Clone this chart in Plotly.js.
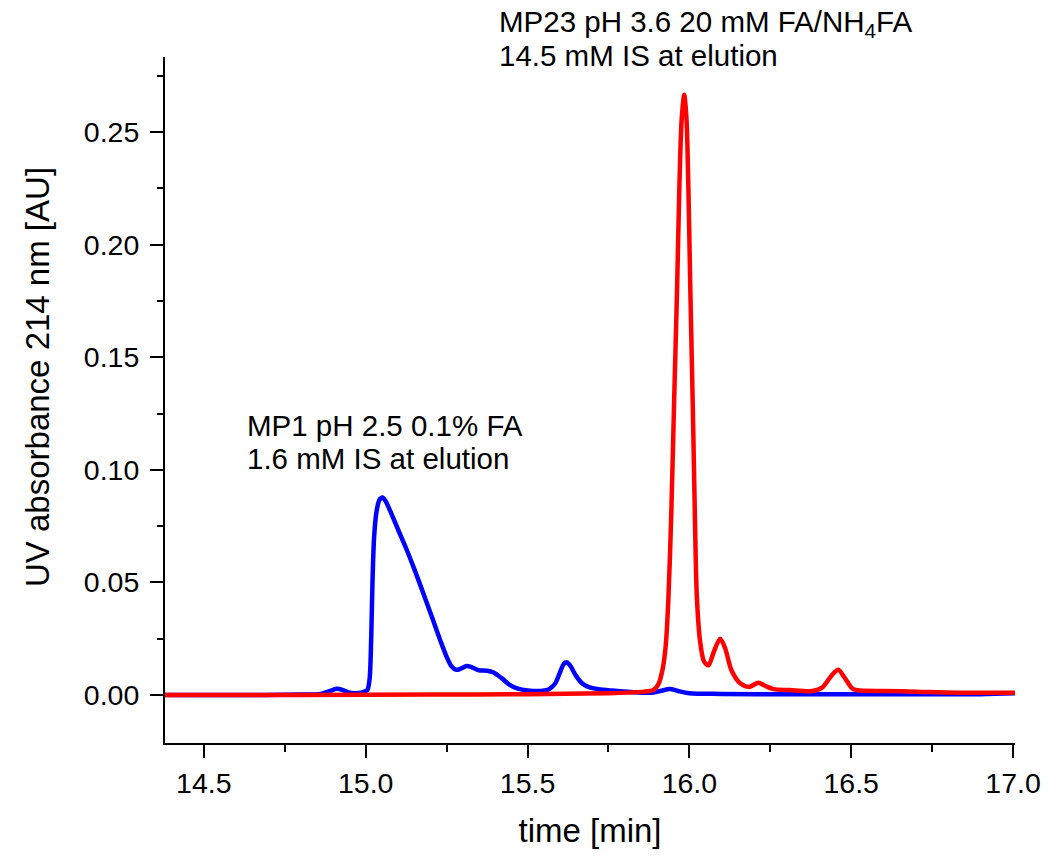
<!DOCTYPE html>
<html>
<head>
<meta charset="utf-8">
<script src="https://cdn.plot.ly/plotly-3.0.1.min.js"></script>
<style>html,body{margin:0;padding:0;background:#fff;}#chart{width:1051px;height:859px;}</style>
</head>
<body>
<div id="chart"></div>
<script>
// MP1 pH 2.5 (blue) trace
const blueTime = [14.38,14.60,14.80,14.86,14.89,14.91,14.93,14.95,14.97,14.99,15.005,15.012,15.017,15.021,15.026,15.033,15.042,15.052,15.062,15.075,15.10,15.127,15.15,15.178,15.205,15.23,15.25,15.265,15.28,15.295,15.312,15.33,15.35,15.375,15.395,15.42,15.445,15.47,15.50,15.54,15.565,15.585,15.60,15.612,15.622,15.632,15.65,15.67,15.69,15.72,15.76,15.82,15.88,15.91,15.94,15.965,16.00,16.10,16.30,16.50,16.70,16.90,17.006];
const blueAbs  = [0.0000,0.0000,0.0002,0.0005,0.0018,0.0028,0.0022,0.0010,0.0008,0.0012,0.0022,0.0070,0.0250,0.0500,0.0700,0.0810,0.0865,0.0877,0.0860,0.0820,0.0735,0.0644,0.0560,0.0452,0.0345,0.0244,0.0170,0.0128,0.0112,0.0118,0.0129,0.0122,0.0110,0.0108,0.0100,0.0075,0.0045,0.0028,0.0020,0.0018,0.0025,0.0050,0.0100,0.0138,0.0145,0.0130,0.0085,0.0050,0.0035,0.0026,0.0020,0.0013,0.0010,0.0018,0.0027,0.0018,0.0008,0.0005,0.0003,0.0003,0.0003,0.0004,0.0008];

// MP23 pH 3.6 (red) trace
const redTime = [14.38,14.80,15.20,15.50,15.75,15.85,15.889,15.905,15.918,15.927,15.935,15.944,15.953,15.962,15.969,15.976,15.984,15.991,15.997,16.003,16.011,16.017,16.023,16.033,16.045,16.059,16.075,16.095,16.110,16.130,16.157,16.185,16.213,16.235,16.260,16.31,16.38,16.41,16.44,16.46,16.48,16.505,16.53,16.60,16.70,16.85,17.006];
const redAbs  = [0.0000,0.0000,0.0002,0.0004,0.0008,0.0014,0.0022,0.0050,0.0120,0.0220,0.0420,0.0800,0.1310,0.1800,0.2250,0.2550,0.2665,0.2560,0.2250,0.1800,0.1250,0.0800,0.0440,0.0240,0.0150,0.0132,0.0190,0.0250,0.0210,0.0110,0.0052,0.0036,0.0055,0.0040,0.0026,0.0022,0.0018,0.0033,0.0088,0.0112,0.0076,0.0027,0.0020,0.0018,0.0015,0.0010,0.0010];

const xTitle = 'time [min]';
const yTitle = 'UV absorbance 214 nm [AU]';
const label1 = ['MP1 pH 2.5 0.1% FA', '1.6 mM IS at elution'];
const label2 = ['MP23 pH 3.6 20 mM FA/NH<sub>4</sub>FA', '14.5 mM IS at elution'];

const FONT = 'Liberation Sans, Arial, Helvetica, sans-serif';

const traces = [
  {x: blueTime, y: blueAbs, type: 'scatter', mode: 'lines', name: 'MP1',
   line: {color: '#0000ff', width: 4.5, shape: 'spline', smoothing: 0.8}},
  {x: redTime, y: redAbs, type: 'scatter', mode: 'lines', name: 'MP23',
   line: {color: '#ff0000', width: 4.5, shape: 'spline', smoothing: 0.8}}
];

const layout = {
  width: 1051, height: 859,
  margin: {l: 165, r: 36, t: 57, b: 116, pad: 0},
  paper_bgcolor: '#ffffff', plot_bgcolor: '#ffffff',
  showlegend: false,
  font: {family: FONT, color: '#000000', size: 28},
  xaxis: {
    range: [14.38, 17.006], showgrid: false, zeroline: false,
    showline: true, linecolor: '#000', linewidth: 2,
    ticks: 'outside', ticklen: 13, tickwidth: 2, tickcolor: '#000',
    dtick: 0.5, tick0: 0, tickformat: '.1f',
    tickfont: {family: FONT, size: 28.5, color: '#000'},
    ticklabelstandoff: 1,
    minor: {dtick: 0.25, tick0: 0, ticks: 'outside', ticklen: 7, tickwidth: 2, tickcolor: '#000', showgrid: false},
    title: {text: xTitle, font: {family: FONT, size: 33, color: '#000'}, standoff: 21}
  },
  yaxis: {
    range: [-0.0213, 0.2833], showgrid: false, zeroline: false,
    showline: true, linecolor: '#000', linewidth: 2,
    ticks: 'outside', ticklen: 13, tickwidth: 2, tickcolor: '#000',
    dtick: 0.05, tick0: 0, tickformat: '.2f',
    tickfont: {family: FONT, size: 28.5, color: '#000'},
    ticklabelstandoff: 5,
    minor: {dtick: 0.025, tick0: 0, ticks: 'outside', ticklen: 6, tickwidth: 2, tickcolor: '#000', showgrid: false}
  },
  annotations: [
    {text: yTitle, xref: 'paper', yref: 'paper', x: -0.1506, y: 0.5335, textangle: -90,
     showarrow: false, xanchor: 'center', yanchor: 'middle', font: {family: FONT, size: 33, color: '#000'}},
    {text: label1[0], xref: 'x', yref: 'y', x: 14.627, y: 0.1280, xanchor: 'left', yanchor: 'top', showarrow: false,
     font: {family: FONT, size: 29.5, color: '#000'}},
    {text: label1[1], xref: 'x', yref: 'y', x: 14.627, y: 0.1133, xanchor: 'left', yanchor: 'top', showarrow: false,
     font: {family: FONT, size: 29.5, color: '#000'}},
    {text: label2[0], xref: 'x', yref: 'paper', x: 15.406, y: 1.0787, xanchor: 'left', yanchor: 'top', showarrow: false,
     font: {family: FONT, size: 29.5, color: '#000'}},
    {text: label2[1], xref: 'x', yref: 'paper', x: 15.406, y: 1.0292, xanchor: 'left', yanchor: 'top', showarrow: false,
     font: {family: FONT, size: 29.5, color: '#000'}}
  ]
};

Plotly.newPlot('chart', traces, layout, {staticPlot: true, displayModeBar: false});
</script>
</body>
</html>
